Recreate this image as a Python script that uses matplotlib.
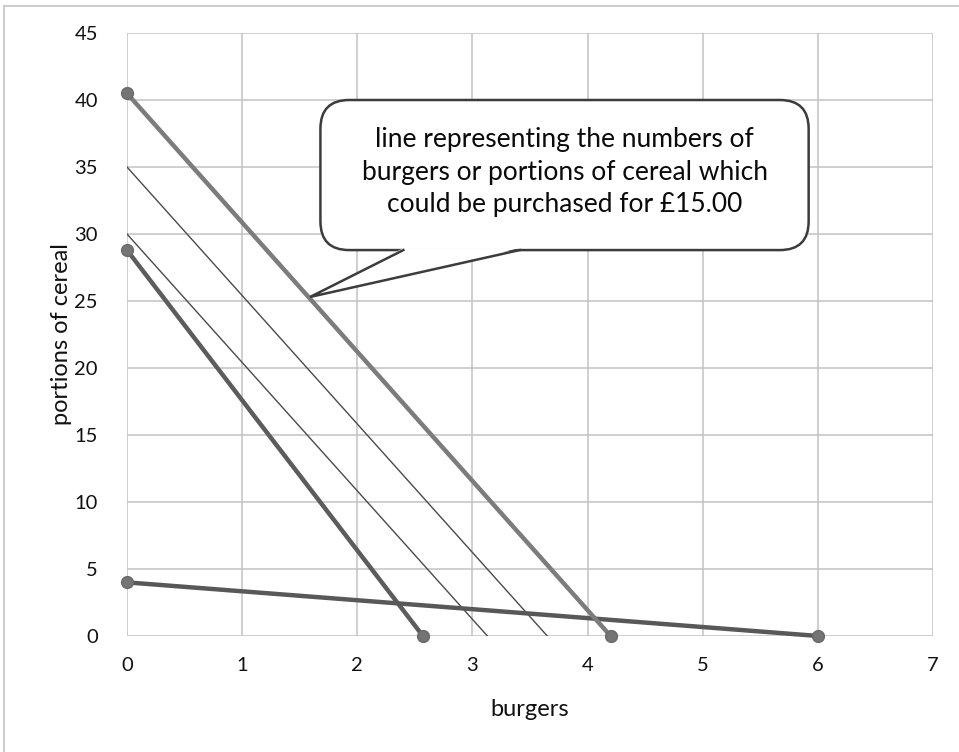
import matplotlib.pyplot as plt
from matplotlib.patches import FancyBboxPatch, Polygon
from matplotlib.lines import Line2D

plt.rcParams['font.family'] = ['Lato', 'DejaVu Sans']

# budget lines (burgers, portions of cereal)
budget_15_x = [0, 4.2]
budget_15_y = [40.5, 0]
budget_low_x = [0, 2.57]
budget_low_y = [28.8, 0]
flat_x = [0, 6]
flat_y = [4, 0]
thin_a_x = [0, 3.65]
thin_a_y = [35.0, 0]
thin_b_x = [0, 3.13]
thin_b_y = [30.0, 0]

x_ticks = [0, 1, 2, 3, 4, 5, 6, 7]
y_ticks = [0, 5, 10, 15, 20, 25, 30, 35, 40, 45]

note = ("line representing the numbers of\n"
        "burgers or portions of cereal which\n"
        "could be purchased for £15.00")

fig = plt.figure(figsize=(9.59, 7.52), dpi=100)
ax = fig.add_axes([0.1324, 0.1543, 0.8405, 0.8018])

# outer chart frame
fig.add_artist(Line2D([0.0045, 0.0045], [0, 0.992], color='#c4c4c4', lw=1.2))
fig.add_artist(Line2D([0.0045, 1], [0.992, 0.992], color='#c4c4c4', lw=1.2))

ax.set_xlim(0, 7)
ax.set_ylim(0, 45)
ax.set_xticks(x_ticks)
ax.set_yticks(y_ticks)
ax.grid(True, color='#c2c2c2', lw=1.1)
ax.set_axisbelow(True)
for s in ax.spines.values():
    s.set_visible(False)
ax.tick_params(length=0, labelsize=14.5, labelcolor='#111111')
ax.tick_params(axis='x', pad=15)
ax.tick_params(axis='y', pad=21)

ax.set_xlabel('burgers', fontsize=17, color='#111111', labelpad=18)
ax.set_ylabel('portions of cereal', fontsize=17, color='#111111', labelpad=2)

ax.plot(thin_a_x, thin_a_y, color='#4a4a4a', lw=1.0)
ax.plot(thin_b_x, thin_b_y, color='#4a4a4a', lw=1.0)

mk = dict(marker='o', markersize=8.5, markerfacecolor='#747474',
          markeredgecolor='#6a6a6a', clip_on=False)
ax.plot(budget_low_x, budget_low_y, color='#5c5c5c', lw=3.2, **mk)
ax.plot(flat_x, flat_y, color='#585858', lw=3.2, **mk)
ax.plot(budget_15_x, budget_15_y, color='#7c7c7c', lw=3.2, **mk)

# callout box with pointer to the £15 line
box_x0, box_x1 = 1.68, 5.92
box_y0, box_y1 = 28.8, 40.0
aspect = (45 / 603) / (7 / 806)
box = FancyBboxPatch((box_x0, box_y0), box_x1 - box_x0, box_y1 - box_y0,
                     boxstyle='round,pad=0,rounding_size=0.25',
                     mutation_aspect=aspect, facecolor='white',
                     edgecolor='#3c3c3c', lw=1.8, zorder=5)
ax.add_patch(box)
tail = [(2.40, box_y0), (1.59, 25.3), (3.41, box_y0)]
ax.add_patch(Polygon([(2.40, box_y0 + 0.15), (1.59, 25.3), (3.41, box_y0 + 0.15)],
                     closed=True, facecolor='white', edgecolor='none', zorder=6))
ax.plot([tail[0][0], tail[1][0], tail[2][0]], [tail[0][1], tail[1][1], tail[2][1]],
        color='#3c3c3c', lw=1.8, zorder=7, solid_joinstyle='miter')
ax.text((box_x0 + box_x1) / 2, (box_y0 + box_y1) / 2 + 0.2, note, ha='center',
        va='center', fontsize=19, color='#0a0a0a', linespacing=1.38, zorder=8)

fig.savefig('out.png', dpi=100)
